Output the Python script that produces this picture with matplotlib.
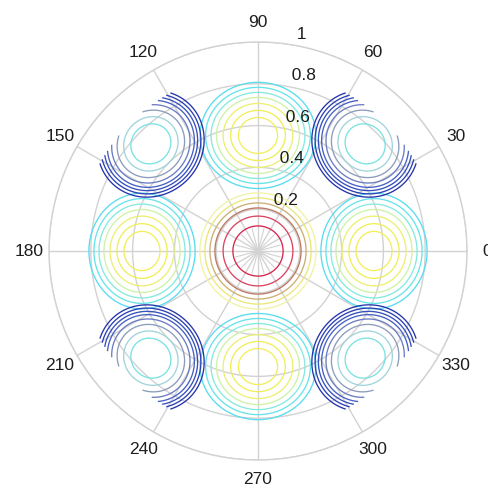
import numpy as np
import matplotlib
matplotlib.use("Agg")
import matplotlib.pyplot as plt

# ---------------- data ----------------
theta_ticks_deg = [0, 30, 60, 90, 120, 150, 180, 210, 240, 270, 300, 330]
theta_labels = ["0", "30", "60", "90", "120", "150", "180", "210", "240", "270", "300", "330"]
r_ticks = [0.2, 0.4, 0.6, 0.8, 1.0]
r_labels = ["0.2", "0.4", "0.6", "0.8", "1"]
r_data_max = 0.865          # extent of the contoured data

# centre peak
center_r = [0.0]
center_theta_deg = [0.0]
center_levels = [0.12, 0.167, 0.206, 0.23, 0.254, 0.278]
center_colors = ["#d8244e", "#dc4462", "#bc7862", "#cdb070", "#ece678", "#f2f2a4"]

# peaks on the axes
axis_r = [0.555, 0.553, 0.555, 0.553]
axis_theta_deg = [0, 90, 180, 270]
axis_levels = [0.086, 0.12, 0.153, 0.182, 0.206, 0.23, 0.254]
axis_colors = ["#f2ee5c", "#f0ee58", "#ecf070", "#cdf2a8", "#84eade", "#66e4ea", "#58dcf0"]

# peaks on the diagonals
diag_r = [0.725, 0.725, 0.725, 0.725]
diag_theta_deg = [45, 135, 225, 315]
diag_levels = [0.092, 0.125, 0.155, 0.18, 0.2, 0.215, 0.23, 0.245]
diag_colors = ["#7ae2e2", "#a0d4dc", "#8c9cbc", "#6c7cc2", "#4660c4", "#3650bc", "#2c40b4", "#2434aa"]

stretch = {"center": 1.0, "axis": 1.09, "diag": 1.08}

# ---------------- figure ----------------
W, H = 489, 494
fig = plt.figure(figsize=(W / 100, H / 100), dpi=100)
cx, cy, R = 258, 494 - 251, 209
ax = fig.add_axes([(cx - R) / W, (cy - R) / H, 2 * R / W, 2 * R / H], projection="polar")
ax.set_ylim(0, 1)

grid_col = "#d2d2d2"
ax.set_rticks(r_ticks)
ax.set_thetagrids(theta_ticks_deg, labels=[""] * len(theta_ticks_deg))
ax.set_yticklabels([])
ax.grid(True, color=grid_col, linewidth=1.0)
ax.spines["polar"].set_color(grid_col)
ax.spines["polar"].set_linewidth(1.0)
ax.tick_params(length=0)

# faint extra spokes in the centre
for a in np.arange(15, 360, 30):
    ax.plot([np.deg2rad(a)] * 2, [0, 0.11], color=grid_col, lw=0.8, zorder=1)

# ---------------- field ----------------
th = np.linspace(0, 2 * np.pi, 1441)
rr = np.linspace(0, r_data_max, 500)
TH, RR = np.meshgrid(th, rr)
X, Y = RR * np.cos(TH), RR * np.sin(TH)


def dist_field(rs, ths, k):
    d = np.full(X.shape, np.inf)
    for rc, tc in zip(rs, ths):
        t = np.deg2rad(tc)
        xc, yc = rc * np.cos(t), rc * np.sin(t)
        dx, dy = X - xc, Y - yc
        u = dx * np.cos(t) + dy * np.sin(t)
        v = -dx * np.sin(t) + dy * np.cos(t)
        d = np.minimum(d, np.sqrt(u ** 2 + (v / k) ** 2))
    return d


for rs, ths, lev, cols, key in [
    (center_r, center_theta_deg, center_levels, center_colors, "center"),
    (axis_r, axis_theta_deg, axis_levels, axis_colors, "axis"),
    (diag_r, diag_theta_deg, diag_levels, diag_colors, "diag"),
]:
    Z = dist_field(rs, ths, stretch[key])
    ax.contour(TH, RR, Z, levels=lev, colors=cols, linewidths=0.95, zorder=3)

# ---------------- labels ----------------
font = dict(family=["Liberation Sans", "DejaVu Sans"], size=12.5, color="#1e1e1e")
for a, lab in zip(theta_ticks_deg, theta_labels):
    ax.text(np.deg2rad(a), 1.095, lab, ha="center", va="center", **font)
for r, lab in zip(r_ticks, r_labels):
    ax.text(np.deg2rad(82), r + 0.01, "  " + lab, ha="left", va="bottom", **font)

ax.set_facecolor("white")
fig.savefig("out.png", dpi=100, facecolor="white")
